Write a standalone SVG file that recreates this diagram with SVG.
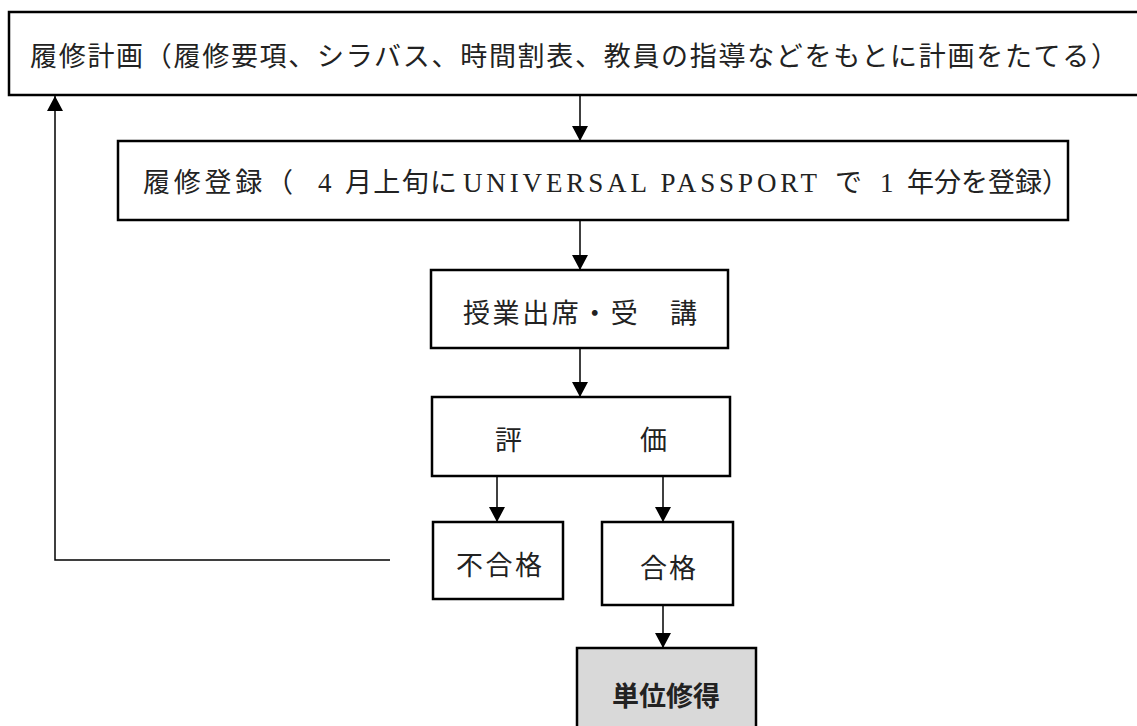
<svg xmlns="http://www.w3.org/2000/svg" width="1137" height="726" viewBox="0 0 1137 726">
<style>
.box{fill:#ffffff;stroke:#000;stroke-width:2.5}
.gray{fill:#d9d9d9;stroke:#000;stroke-width:2.5}
.t{font-family:"Liberation Serif","Noto Sans CJK JP",serif;font-size:27px;fill:#222;dominant-baseline:central}
.b{font-family:"Noto Sans CJK JP",sans-serif;font-size:27px;font-weight:bold;fill:#222;dominant-baseline:central;text-anchor:middle}
.c{fill:none;stroke:#000;stroke-width:1.5}
</style>
<defs>
<marker id="ah" markerUnits="userSpaceOnUse" markerWidth="16" markerHeight="16" viewBox="0 0 16 16" refX="15" refY="8" orient="auto">
<path d="M0,0 L15,8 L0,16 Z" fill="#000"/>
</marker>
</defs>
<rect width="1137" height="726" fill="#fff"/>
<g id="connectors">
<line class="c" x1="580" y1="95" x2="580" y2="141" marker-end="url(#ah)"/>
<line class="c" x1="580" y1="220" x2="580" y2="270" marker-end="url(#ah)"/>
<line class="c" x1="580" y1="348" x2="580" y2="397" marker-end="url(#ah)"/>
<line class="c" x1="497" y1="476" x2="497" y2="522" marker-end="url(#ah)"/>
<line class="c" x1="663" y1="476" x2="663" y2="522" marker-end="url(#ah)"/>
<line class="c" x1="663" y1="605" x2="663" y2="648" marker-end="url(#ah)"/>
<polyline class="c" points="390,560 55,560 55,96" marker-end="url(#ah)"/>
</g>
<g id="plan">
<rect class="box" x="9" y="12" width="1140" height="83"/>
<text class="t" x="30" y="57" textLength="1088" lengthAdjust="spacing">履修計画（履修要項、シラバス、時間割表、教員の指導などをもとに計画をたてる）</text>
</g>
<g id="register">
<rect class="box" x="118" y="141" width="950" height="79"/>
<text class="t" y="183"><tspan x="143" textLength="150" lengthAdjust="spacing">履修登録（</tspan><tspan x="318">4</tspan><tspan x="345" textLength="112" lengthAdjust="spacing">月上旬に</tspan><tspan x="463" textLength="354" lengthAdjust="spacing">UNIVERSAL PASSPORT</tspan><tspan x="835">で</tspan><tspan x="880">1</tspan><tspan x="907">年分を登録）</tspan></text>
</g>
<g id="attend">
<rect class="box" x="431" y="270" width="297" height="78"/>
<text class="t" x="463" y="314" textLength="234" lengthAdjust="spacing">授業出席・受　講</text>
</g>
<g id="evaluate">
<rect class="box" x="432" y="397" width="298" height="79"/>
<text class="t" x="495" y="441" textLength="172" lengthAdjust="spacing">評　　　　価</text>
</g>
<g id="fail">
<rect class="box" x="433" y="522" width="130" height="77"/>
<text class="t" x="456" y="566" textLength="86" lengthAdjust="spacing">不合格</text>
</g>
<g id="pass">
<rect class="box" x="602" y="522" width="131" height="83"/>
<text class="t" x="640" y="569" textLength="56" lengthAdjust="spacing">合格</text>
</g>
<g id="credit">
<rect class="gray" x="577" y="648" width="179" height="90"/>
<text class="b" x="666" y="694">単位修得</text>
</g>
</svg>
